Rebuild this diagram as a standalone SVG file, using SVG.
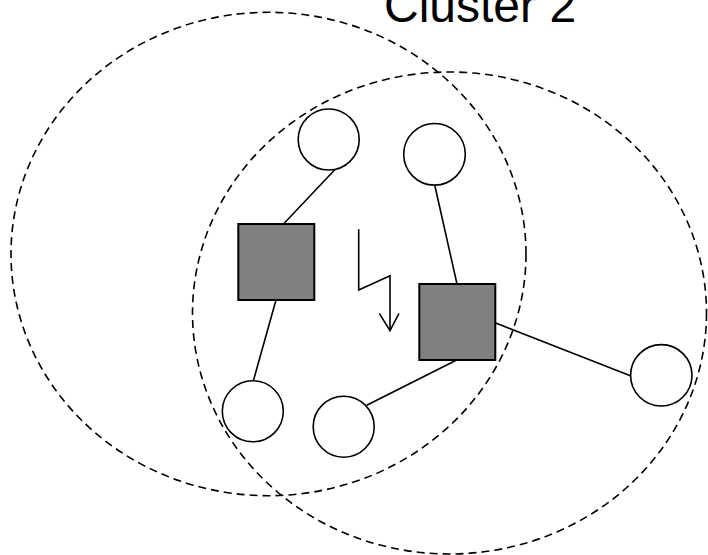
<svg xmlns="http://www.w3.org/2000/svg" width="708" height="555" viewBox="0 0 708 555">
<style>
.cluster{fill:none;stroke:#000;stroke-width:1.6;stroke-dasharray:8,5}
.node{fill:#fff;stroke:#000;stroke-width:1.6}
.hub{fill:#808080;stroke:#000;stroke-width:2}
.edge{stroke:#000;stroke-width:1.6;fill:none}
.label{font-family:"Liberation Sans",Arial,sans-serif;font-size:48px;fill:#000}
</style>
<rect width="708" height="555" fill="#fff"/>
<g id="clusters">
<ellipse id="cluster1" class="cluster" cx="268.5" cy="254" rx="257.5" ry="241.7"/>
<ellipse id="cluster2" class="cluster" cx="449.5" cy="313" rx="257" ry="241"/>
</g>
<text class="label" x="384" y="22">Cluster 2</text>
<g id="connectors">
<line class="edge" x1="335" y1="169.5" x2="283.5" y2="224"/>
<line class="edge" x1="434.7" y1="185" x2="457" y2="284"/>
<line class="edge" x1="276" y1="300" x2="253.3" y2="381"/>
<line class="edge" x1="456.7" y1="360" x2="366.7" y2="405.3"/>
<line class="edge" x1="495" y1="322.7" x2="631" y2="376"/>
</g>
<g id="signal">
<polyline class="edge" points="358.7,229.3 358.7,290 390,275.7 390,330.7"/>
<polyline class="edge" points="379.3,313.3 390,330.7 399,313.3"/>
</g>
<g id="n-top-left"><circle class="node" cx="328.7" cy="139.5" r="30.5"/></g>
<g id="n-top-right"><circle class="node" cx="434.5" cy="154.3" r="30.8"/></g>
<g id="n-bottom-left"><circle class="node" cx="252.8" cy="411.3" r="30.5"/></g>
<g id="n-bottom-mid"><circle class="node" cx="343.7" cy="426.7" r="30.5"/></g>
<g id="n-right"><circle class="node" cx="661.3" cy="375.3" r="30.7"/></g>
<g id="hub-left"><rect class="hub" x="238.3" y="224" width="76" height="76"/></g>
<g id="hub-right"><rect class="hub" x="419.3" y="284" width="76" height="76"/></g>
</svg>
